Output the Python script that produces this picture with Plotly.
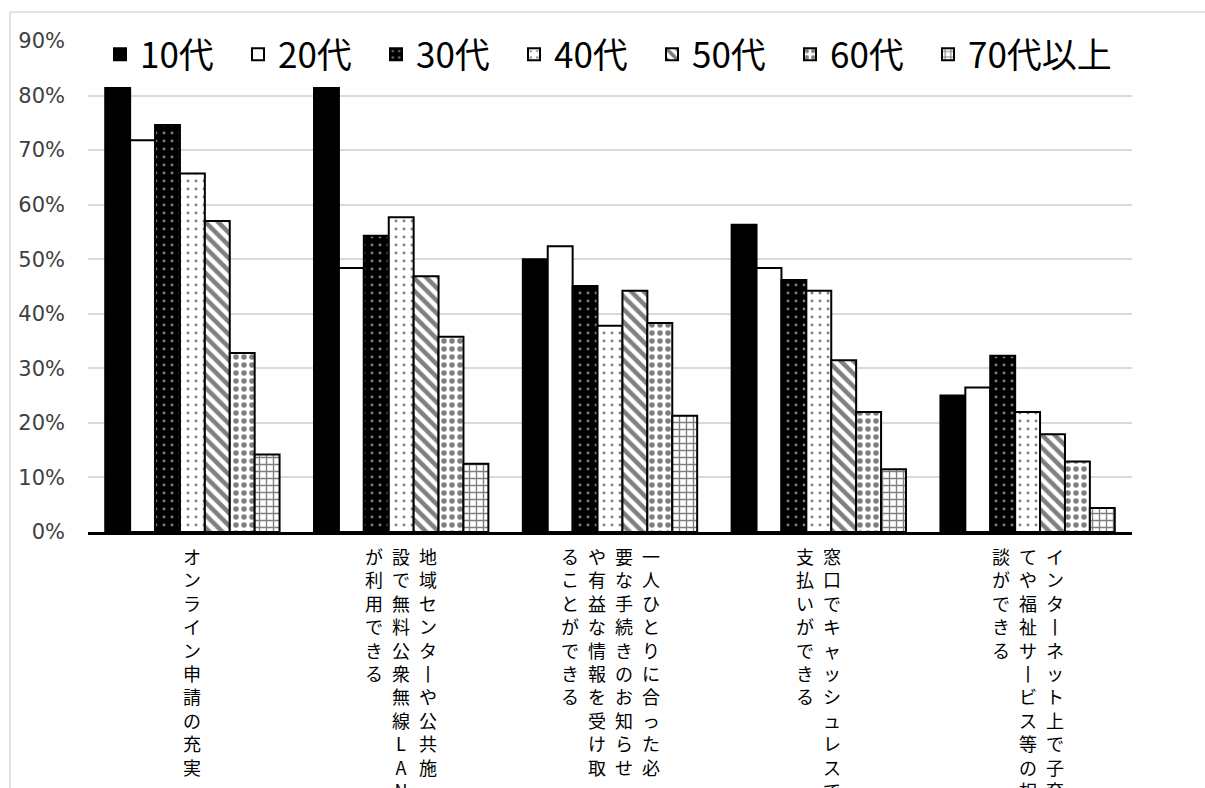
import plotly.graph_objects as go

# ---- data ----
category_lines = [
    ["オンライン申請の充実"],
    ["地域センターや公共施", "設で無料公衆無線LAN", "が利用できる"],
    ["一人ひとりに合った必", "要な手続きのお知らせ", "や有益な情報を受け取", "ることができる"],
    ["窓口でキャッシュレスで", "支払いができる"],
    ["インターネット上で子育", "てや福祉サービス等の相", "談ができる"],
]
categories = ["".join(lines) for lines in category_lines]

series_names = ["10代", "20代", "30代", "40代", "50代", "60代", "70代以上"]
values = {
    "10代":     [0.814, 0.814, 0.500, 0.563, 0.250],
    "20代":     [0.718, 0.484, 0.524, 0.484, 0.265],
    "30代":     [0.746, 0.543, 0.451, 0.462, 0.323],
    "40代":     [0.657, 0.577, 0.378, 0.442, 0.220],
    "50代":     [0.570, 0.469, 0.442, 0.315, 0.179],
    "60代":     [0.328, 0.358, 0.383, 0.220, 0.129],
    "70代以上": [0.142, 0.125, 0.213, 0.115, 0.044],
}
y_ticks = [0, 0.1, 0.2, 0.3, 0.4, 0.5, 0.6, 0.7, 0.8, 0.9]
y_tick_labels = ["0%", "10%", "20%", "30%", "40%", "50%", "60%", "70%", "80%", "90%"]

# ---- styles ----
styles = {
    "10代":     dict(color="black"),
    "20代":     dict(color="white"),
    "30代":     dict(color="black", pattern=dict(shape=".", bgcolor="black", fgcolor="white", size=8, solidity=0.1)),
    "40代":     dict(color="white", pattern=dict(shape=".", bgcolor="white", fgcolor="black", size=8, solidity=0.1)),
    "50代":     dict(color="white", pattern=dict(shape="\\", bgcolor="white", fgcolor="black", size=9, solidity=0.5)),
    "60代":     dict(color="white", pattern=dict(shape=".", bgcolor="white", fgcolor="black", size=8, solidity=0.38)),
    "70代以上": dict(color="white", pattern=dict(shape="+", bgcolor="white", fgcolor="black", size=7, solidity=0.35)),
}
legend_widths = {"70代以上": 170}

x_idx = list(range(len(categories)))

fig = go.Figure()
for name in series_names:
    st = styles[name]
    marker = dict(color=st["color"], line=dict(color="black", width=2))
    if "pattern" in st:
        marker["pattern"] = st["pattern"]
    kw = {}
    if name in legend_widths:
        kw["legendwidth"] = legend_widths[name]
    fig.add_trace(go.Bar(
        name=name, x=x_idx, y=values[name], marker=marker,
        hovertext=categories, hoverinfo="name+y+text", **kw,
    ))

# vertical category labels (columns right-to-left, vertical form of the long-vowel mark)
vert_map = {"ー": "丨"}
col_spacing = 27
annotations = []
for i, lines in enumerate(category_lines):
    n = len(lines)
    for j, line in enumerate(lines):
        shift = ((n - 1) / 2 - j) * col_spacing
        txt = "<br>".join(vert_map.get(c, c) for c in line)
        annotations.append(dict(
            x=i, xref="x", y=0, yref="paper", yanchor="top", xanchor="center",
            xshift=shift, yshift=-9, text=txt, showarrow=False, align="center",
            font=dict(family="Noto Sans CJK JP", size=18, color="black"),
        ))

L, R, T, B = 88, 73, 41, 256
W, H = 1205, 788
pw, ph = W - L - R, H - T - B
def px(xp): return (xp - L) / pw
def py(yp): return (H - B - yp) / ph

shapes = [
    dict(type="line", xref="paper", yref="paper", x0=px(10), x1=px(1205), y0=py(12), y1=py(12),
         line=dict(color="#d9d9d9", width=1.5), layer="below"),
    dict(type="line", xref="paper", yref="paper", x0=px(10), x1=px(10), y0=py(12), y1=py(788),
         line=dict(color="#d9d9d9", width=1.5), layer="below"),
]

fig.update_layout(
    width=W, height=H,
    margin=dict(l=L, r=R, t=T, b=B, pad=0),
    paper_bgcolor="white", plot_bgcolor="white",
    barmode="group", bargap=0.165, bargroupgap=0,
    showlegend=True,
    legend=dict(orientation="h", x=px(100), xanchor="left", y=py(25), yanchor="top",
                font=dict(family="Noto Sans CJK JP", size=35, color="black"),
                itemwidth=30, entrywidth=93, entrywidthmode="pixels",
                bgcolor="rgba(0,0,0,0)", traceorder="normal"),
    annotations=annotations,
    shapes=shapes,
    font=dict(family="Noto Sans CJK JP"),
)
fig.update_xaxes(
    range=[-0.5, len(categories) - 0.5], showticklabels=False, ticks="",
    showline=True, linecolor="black", linewidth=2.5, showgrid=False, zeroline=False,
)
fig.update_yaxes(
    range=[0, 0.9], tickvals=y_ticks, ticktext=y_tick_labels,
    showgrid=True, gridcolor="#d9d9d9", gridwidth=1.5, zeroline=False, showline=False,
    tickfont=dict(family="DejaVu Sans", size=21, color="#404040"),
    ticks="", ticklabelstandoff=22,
)

fig.write_html("out.html")
